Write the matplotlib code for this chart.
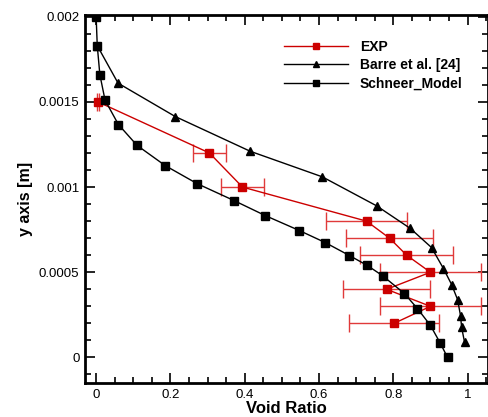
import numpy as np
import matplotlib.pyplot as plt
from matplotlib.ticker import MultipleLocator

plt.rcParams['font.family'] = ['Liberation Sans', 'DejaVu Sans']

# Schneer model
schneer_x = [0.0, 0.003, 0.01, 0.024, 0.06, 0.11, 0.186, 0.272, 0.372, 0.455,
             0.547, 0.617, 0.682, 0.730, 0.771, 0.830, 0.865, 0.900, 0.927, 0.946]
schneer_y = [0.002, 0.00183, 0.00166, 0.00151, 0.001367, 0.001245, 0.001126, 0.00102,
             0.00092, 0.000833, 0.000745, 0.000674, 0.000598, 0.00054, 0.00048,
             0.000375, 0.000287, 0.000188, 0.000082, 0.0]

# Barre et al. [24]
barre_x = [0.003, 0.059, 0.213, 0.415, 0.609, 0.755, 0.846, 0.903, 0.935, 0.957,
           0.973, 0.981, 0.984, 0.992]
barre_y = [0.00183, 0.00161, 0.001414, 0.00121, 0.00106, 0.00089, 0.000757, 0.000645,
           0.000522, 0.000428, 0.00034, 0.000246, 0.000176, 0.000088]

# Experiment
exp_x = [0.005, 0.305, 0.394, 0.728, 0.790, 0.836, 0.900, 0.782, 0.900, 0.802]
exp_y = [0.0015, 0.0012, 0.001, 0.0008, 0.0007, 0.0006, 0.0005, 0.0004, 0.0003, 0.0002]
exp_err = [0.004, 0.045, 0.058, 0.109, 0.117, 0.125, 0.135, 0.118, 0.135, 0.12]

fig = plt.figure(figsize=(4.89, 4.17), dpi=100)
ax = fig.add_axes([85 / 489, 1 - 383 / 417, 403 / 489, 368 / 417])

red = '#cc0000'
ax.errorbar(exp_x, exp_y, xerr=exp_err, fmt='none', ecolor='#e03a3a', elinewidth=1.0,
            capsize=6.5, capthick=1.0, zorder=2)
ax.plot(exp_x, exp_y, color=red, marker='s', markersize=6, linewidth=1.0,
        label='EXP', zorder=3)
ax.plot(barre_x, barre_y, color='black', marker='^', markersize=6, linewidth=1.0,
        label='Barre et al. [24]', zorder=3)
ax.plot(schneer_x, schneer_y, color='black', marker='s', markersize=6, linewidth=1.0,
        label='Schneer_Model', zorder=4)

ax.set_xlim(-0.03, 1.055)
ax.set_ylim(-0.00015, 0.00201)
ax.xaxis.set_minor_locator(MultipleLocator(0.05))
ax.yaxis.set_minor_locator(MultipleLocator(0.0001))
ax.set_xticks([0, 0.2, 0.4, 0.6, 0.8, 1.0])
ax.set_xticklabels(['0', '0.2', '0.4', '0.6', '0.8', '1'])
ax.set_yticks([0, 0.0005, 0.001, 0.0015, 0.002])
ax.set_yticklabels(['0', '0.0005', '0.001', '0.0015', '0.002'])

ax.tick_params(which='both', direction='in', top=True, right=True, labelsize=9.5,
               width=1.2)
ax.tick_params(which='major', length=7, pad=4)
ax.tick_params(which='minor', length=4)
for s in ax.spines.values():
    s.set_linewidth(2)

ax.set_xlabel('Void Ratio', fontsize=12, fontweight='bold', labelpad=0)
ax.set_ylabel('y axis [m]', fontsize=11.5, fontweight='bold', labelpad=4)

leg = ax.legend(loc='upper left', bbox_to_anchor=(0.48, 0.947), frameon=False,
                prop={'weight': 'bold', 'size': 10}, handlelength=4.6,
                handletextpad=0.85, labelspacing=0.3, markerscale=0.75,
                borderaxespad=0)

fig.savefig('out.png', dpi=100)
